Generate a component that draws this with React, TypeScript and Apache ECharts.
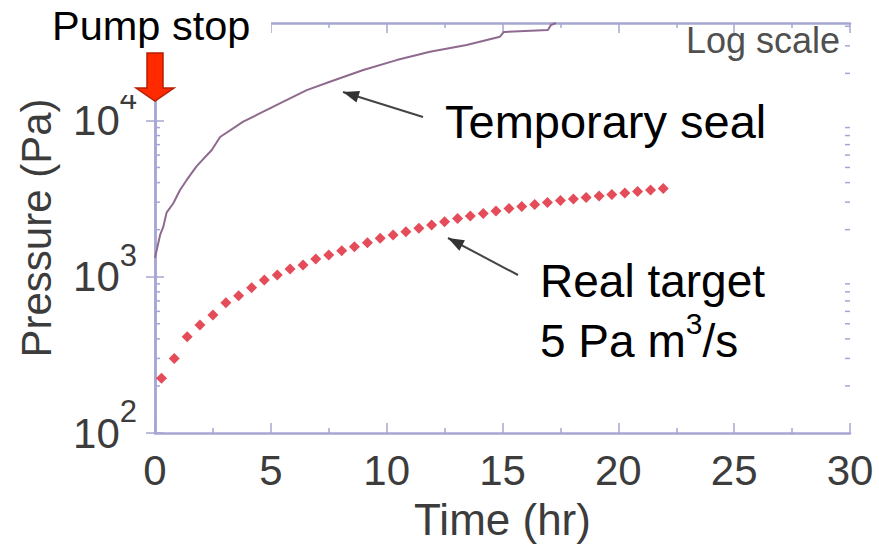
import React, { useEffect, useRef } from "react";
import * as echarts from "echarts";

// ---- data ----
const realTime = [
  0.28, 0.83, 1.39, 1.94, 2.5, 3.06, 3.61, 4.17, 4.72, 5.28, 5.83, 6.39, 6.94, 7.5,
  8.06, 8.61, 9.17, 9.72, 10.28, 10.83, 11.39, 11.94, 12.5, 13.06, 13.61, 14.17,
  14.72, 15.28, 15.83, 16.39, 16.94, 17.5, 18.06, 18.61, 19.17, 19.72, 20.28, 20.83,
  21.39, 21.94,
];
const realPressure = [
  224, 300, 413, 491, 569, 682, 756, 851, 952, 1025, 1120, 1188, 1298, 1377, 1467,
  1556, 1651, 1761, 1849, 1941, 2041, 2142, 2249, 2358, 2445, 2536, 2632, 2731, 2812,
  2898, 2985, 3075, 3141, 3213, 3283, 3357, 3432, 3510, 3589, 3666,
];
const sealTime = [
  0, 0.22, 0.36, 0.5, 0.79, 1.08, 1.37, 1.8, 2.45, 2.81, 3.81, 4.39, 5.11, 5.39, 6.55,
  7.55, 8.99, 10.43, 11.87, 13.45, 14.89, 15.06, 16.96, 17.09, 17.31,
];
const sealPressure = [
  1320, 1850, 2090, 2570, 2950, 3590, 4160, 5100, 6470, 7830, 9820, 10840, 12240,
  12850, 15630, 17690, 21000, 24320, 27520, 30400, 34330, 36800, 37900, 40800, 42000,
];
const yMinorTicks = [
  200, 300, 400, 500, 600, 700, 800, 900, 2000, 3000, 4000, 5000, 6000, 7000, 8000,
  9000, 20000, 30000, 40000,
];
const xMin = 0;
const xMax = 30;
const xInterval = 5;
const yMin = 100;
const yMax = 42000;

const FONT = '"Liberation Sans", Arial, Helvetica, sans-serif';
const AXIS = "#a6a6d2";
const LABEL = "#3c3c3c";

function arrowHead(tip: number[], tail: number[], len: number, half: number) {
  const dx = tip[0] - tail[0];
  const dy = tip[1] - tail[1];
  const l = Math.hypot(dx, dy);
  const ux = dx / l;
  const uy = dy / l;
  const bx = tip[0] - ux * len;
  const by = tip[1] - uy * len;
  return [
    [tip[0], tip[1]],
    [bx - uy * half, by + ux * half],
    [bx + uy * half, by - ux * half],
  ];
}

export default function App() {
  const ref = useRef<HTMLDivElement>(null);

  useEffect(() => {
    if (!ref.current) return;
    const chart = echarts.init(ref.current, null, { renderer: "svg" });

    const xAxisBase = {
      type: "value",
      min: xMin,
      max: xMax,
      interval: xInterval,
      axisLine: { show: true, lineStyle: { color: AXIS, width: 2.5 } },
      axisTick: { show: true, inside: true, length: 10, lineStyle: { color: AXIS, width: 1.5 } },
      minorTick: { show: true, splitNumber: 2, length: 5, lineStyle: { color: AXIS, width: 1.5 } },
      splitLine: { show: false },
    };
    const yAxisBase = {
      type: "log",
      logBase: 10,
      min: yMin,
      max: yMax,
      axisLine: { show: true, lineStyle: { color: AXIS, width: 2.5 } },
      axisTick: { show: true, inside: true, length: 9, lineStyle: { color: AXIS, width: 1.5 } },
      splitLine: { show: false },
    };

    const tail1 = [423, 117];
    const tip1 = [343, 92];
    const tail2 = [518, 275];
    const tip2 = [448, 238];

    chart.setOption({
      animation: false,
      backgroundColor: "#ffffff",
      grid: { left: 155, right: 29, top: 23, bottom: 113, containLabel: false },
      xAxis: [
        {
          ...xAxisBase,
          position: "bottom",
          name: "Time (hr)",
          nameLocation: "middle",
          nameGap: 64,
          nameTextStyle: { fontSize: 44, fontFamily: FONT, color: LABEL },
          axisLabel: { fontSize: 42, fontFamily: FONT, color: LABEL, margin: 16 },
        },
        {
          ...xAxisBase,
          position: "top",
          axisLabel: { show: false },
        },
      ],
      yAxis: [
        {
          ...yAxisBase,
          position: "left",
          name: "Pressure (Pa)",
          nameLocation: "middle",
          nameRotate: 90,
          nameGap: 98,
          nameTextStyle: { fontSize: 42, fontFamily: FONT, color: LABEL },
          axisLabel: {
            margin: 18,
            formatter: (v: number) => {
              const e = Math.log10(v);
              const r = Math.round(e);
              if (Math.abs(e - r) > 1e-6) return "";
              return `{b|10}{s|${r}}`;
            },
            rich: {
              b: { fontSize: 42, fontFamily: FONT, color: LABEL, padding: [16, 0, 16, 0] },
              s: { fontSize: 31, fontFamily: FONT, color: LABEL, verticalAlign: "top" },
            },
          },
        },
        {
          ...yAxisBase,
          position: "right",
          axisLabel: { show: false },
        },
      ],
      series: [
        {
          name: "Temporary seal",
          type: "line",
          xAxisIndex: 0,
          yAxisIndex: 0,
          data: sealTime.map((t, i) => [t, sealPressure[i]]),
          showSymbol: false,
          symbol: "none",
          lineStyle: { color: "#8e6a8e", width: 2 },
          z: 3,
        },
        {
          name: "Real target",
          type: "scatter",
          xAxisIndex: 0,
          yAxisIndex: 0,
          data: realTime.map((t, i) => [t, realPressure[i]]),
          symbol: "diamond",
          symbolSize: 11,
          itemStyle: { color: "#dc1f2e" },
          z: 4,
        },
        {
          name: "minor ticks",
          type: "custom",
          xAxisIndex: 0,
          yAxisIndex: 0,
          silent: true,
          clip: false,
          data: yMinorTicks.map((v) => [xMin, v]),
          renderItem: (_params: any, api: any) => {
            const v = api.value(1);
            const pl = api.coord([xMin, v]);
            const pr = api.coord([xMax, v]);
            const st = { stroke: AXIS, lineWidth: 1.5 };
            return {
              type: "group",
              children: [
                { type: "line", shape: { x1: pl[0], y1: pl[1], x2: pl[0] + 5, y2: pl[1] }, style: st },
                { type: "line", shape: { x1: pr[0], y1: pr[1], x2: pr[0] - 5, y2: pr[1] }, style: st },
              ],
            };
          },
          z: 1,
        },
      ],
      graphic: [
        { type: "rect", z: 100, shape: { x: 30, y: 0, width: 241, height: 95 }, style: { fill: "#ffffff" } },
        {
          type: "text",
          z: 101,
          x: 52,
          y: 25,
          style: { text: "Pump stop", fontSize: 41.5, fontFamily: FONT, fill: "#000", align: "left", verticalAlign: "middle" },
        },
        {
          type: "polygon",
          z: 101,
          shape: { points: [[147, 53], [163, 53], [163, 88], [174, 88], [155, 101], [136, 88], [147, 88]] },
          style: { fill: "#ff2a00", stroke: "#b52000", lineWidth: 1.5 },
        },
        {
          type: "text",
          z: 101,
          x: 840,
          y: 40,
          style: { text: "Log scale", fontSize: 36, fontFamily: FONT, fill: "#505050", align: "right", verticalAlign: "middle" },
        },
        {
          type: "text",
          z: 101,
          x: 445,
          y: 121,
          style: { text: "Temporary seal", fontSize: 47, fontFamily: FONT, fill: "#000", align: "left", verticalAlign: "middle" },
        },
        {
          type: "text",
          z: 101,
          x: 540,
          y: 281,
          style: { text: "Real target", fontSize: 46, fontFamily: FONT, fill: "#000", align: "left", verticalAlign: "middle" },
        },
        {
          type: "text",
          z: 101,
          x: 540,
          y: 336,
          style: {
            text: "{n|5 Pa m}{s|3}{n|/s}",
            fill: "#000",
            align: "left",
            verticalAlign: "middle",
            rich: {
              n: { fontSize: 46, fontFamily: FONT, fill: "#000", padding: [10, 0, 0, 0], verticalAlign: "bottom" },
              s: { fontSize: 30, fontFamily: FONT, fill: "#000", verticalAlign: "top" },
            },
          },
        },
        {
          type: "line",
          z: 101,
          shape: { x1: tail1[0], y1: tail1[1], x2: tip1[0], y2: tip1[1] },
          style: { stroke: "#444", lineWidth: 2 },
        },
        {
          type: "polygon",
          z: 101,
          shape: { points: arrowHead(tip1, tail1, 16, 6) },
          style: { fill: "#333" },
        },
        {
          type: "line",
          z: 101,
          shape: { x1: tail2[0], y1: tail2[1], x2: tip2[0], y2: tip2[1] },
          style: { stroke: "#444", lineWidth: 2 },
        },
        {
          type: "polygon",
          z: 101,
          shape: { points: arrowHead(tip2, tail2, 16, 6) },
          style: { fill: "#333" },
        },
      ],
    });

    return () => chart.dispose();
  }, []);

  return (
    <div
      ref={ref}
      style={{ position: "fixed", left: 0, top: 0, width: 879, height: 546, background: "#fff" }}
    />
  );
}
